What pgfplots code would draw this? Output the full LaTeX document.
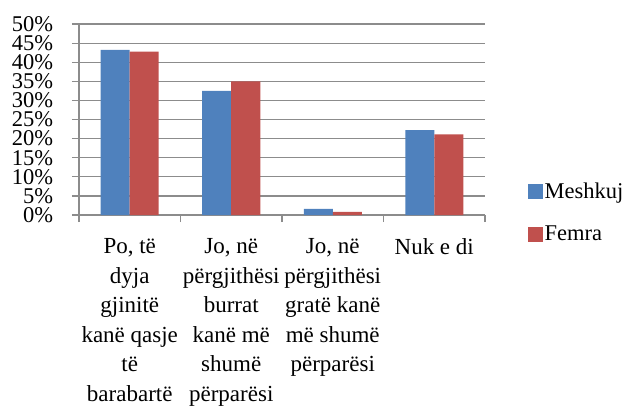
\documentclass[border=0pt]{standalone}
\usepackage{pgfplots}
\pgfplotsset{compat=1.18}
\usepackage{fontspec}
\setmainfont{Liberation Serif}
\definecolor{mblue}{HTML}{4F81BD}
\definecolor{mred}{HTML}{C0504D}
\definecolor{gridg}{HTML}{8C8C8C}
\begin{document}
\fontsize{23bp}{29.5bp}\selectfont
\begin{tikzpicture}
\useasboundingbox (-79bp,-195bp) rectangle (549bp,215bp);
\begin{axis}[
  at={(0,0)}, anchor=south west,
  scale only axis, width=406bp, height=191bp,
  ymin=0, ymax=50, ytick={0,5,...,50},
  yticklabel={\pgfmathprintnumber{\tick}\%},
  /pgf/number format/assume math mode=true,
  xmin=-0.5, xmax=3.5,
  xtick={0,1,2,3},
  xticklabels={{Po, të\\dyja\\gjinitë\\kanë qasje\\të\\barabartë},
               {Jo, në\\përgjithësi\\burrat\\kanë më\\shumë\\përparësi},
               {Jo, në\\përgjithësi\\gratë kanë\\më shumë\\përparësi},
               {Nuk e di}},
  major x tick style={draw=none},
  minor xtick={-0.5,0.5,1.5,2.5,3.5},
  minor x tick style={draw=gridg, line width=1.2pt},
  major y tick style={draw=gridg, line width=1.2pt},
  tick align=outside, major tick length=7bp, minor tick length=7bp,
  axis lines*=left,
  axis line style={draw=gridg, line width=1.2pt},
  ymajorgrids, grid style={draw=gridg, line width=1.2pt},
  ticklabel style={font=\fontsize{23bp}{29.5bp}\selectfont},
  yticklabel style={font=\fontsize{22.5bp}{24bp}\selectfont, xshift=-11bp},
  xticklabel style={align=center, anchor=north, yshift=-9bp},
  ybar=0bp, bar width=29bp,
  legend style={at={(1.097,0.19)}, anchor=north west, draw=none, fill=none,
    font=\fontsize{22.5bp}{29.5bp}\selectfont, row sep=20bp},
  legend cell align=left,
]
\addplot[fill=mblue, draw=none, legend image code/.code={\fill[mblue] (0bp,-7bp) rectangle (15bp,8bp);}]
  coordinates {(0,43.2) (1,32.5) (2,1.6) (3,22.2)};
\addplot[fill=mred, draw=none, legend image code/.code={\fill[mred] (0bp,-7bp) rectangle (15bp,8bp);}]
  coordinates {(0,42.75) (1,35.0) (2,0.8) (3,21.1)};
\legend{Meshkuj, Femra}
\end{axis}
\end{tikzpicture}
\end{document}
